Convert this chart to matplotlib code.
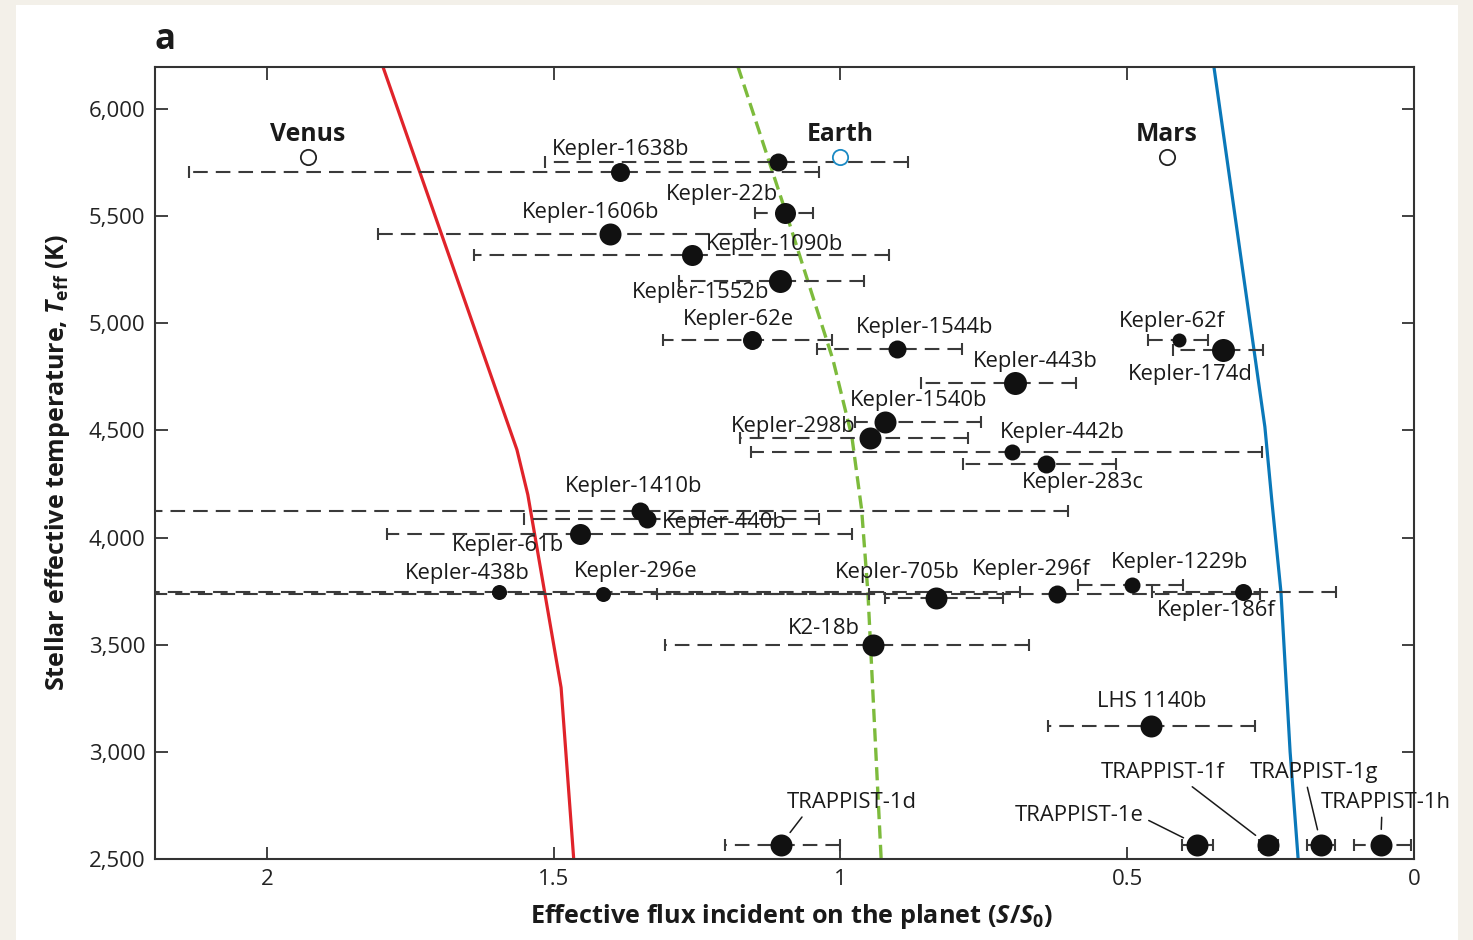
import matplotlib
matplotlib.use('Agg')
import matplotlib.pyplot as plt
from matplotlib.patches import Rectangle

plt.rcParams['font.family'] = ['Open Sans', 'DejaVu Sans']
plt.rcParams['lines.scale_dashes'] = False
plt.rcParams['mathtext.fontset'] = 'custom'
plt.rcParams['mathtext.it'] = 'Open Sans:italic:bold'
plt.rcParams['mathtext.rm'] = 'Open Sans:bold'
plt.rcParams['mathtext.bf'] = 'Open Sans:bold'

# ---------------- data ----------------
planet_names = ['Kepler-1638b', 'Kepler-452b', 'Kepler-22b', 'Kepler-1606b', 'Kepler-1090b',
                'Kepler-1552b', 'Kepler-62e', 'Kepler-1544b', 'Kepler-443b', 'Kepler-62f',
                'Kepler-174d', 'Kepler-1540b', 'Kepler-298b', 'Kepler-442b', 'Kepler-283c',
                'Kepler-1410b', 'Kepler-440b', 'Kepler-61b', 'Kepler-438b', 'Kepler-296e',
                'Kepler-705b', 'Kepler-296f', 'Kepler-1229b', 'Kepler-186f', 'K2-18b',
                'LHS 1140b', 'TRAPPIST-1d', 'TRAPPIST-1e', 'TRAPPIST-1f', 'TRAPPIST-1g',
                'TRAPPIST-1h']
planet_flux = [1.384, 1.109, 1.097, 1.402, 1.259,
               1.105, 1.154, 0.901, 0.696, 0.410,
               0.333, 0.922, 0.949, 0.701, 0.642,
               1.350, 1.337, 1.454, 1.595, 1.414,
               0.833, 0.622, 0.492, 0.298, 0.943,
               0.459, 1.104, 0.378, 0.255, 0.162,
               0.058]
planet_teff = [5706, 5753, 5515, 5417, 5319,
               5198, 4923, 4881, 4722, 4923,
               4876, 4540, 4466, 4400, 4344,
               4125, 4088, 4018, 3748, 3738,
               3719, 3738, 3780, 3747, 3500,
               3122, 2567, 2567, 2567, 2567,
               2567]
flux_upper = [2.136, 1.515, 1.149, 1.806, 1.639,
              1.282, 1.310, 1.041, 0.860, 0.464,
              0.420, 0.975, 1.175, 1.156, 0.786,
              2.400, 1.552, 1.791, 2.400, 2.400,
              0.922, 1.320, 0.586, 0.457, 1.305,
              0.638, 1.201, 0.405, 0.270, 0.186,
              0.105]
flux_lower = [1.037, 0.882, 1.048, 1.149, 0.915,
              0.959, 1.015, 0.788, 0.589, 0.359,
              0.263, 0.755, 0.778, 0.265, 0.520,
              0.603, 1.037, 0.980, 0.687, 0.950,
              0.717, 0.268, 0.403, 0.136, 0.671,
              0.277, 1.001, 0.350, 0.237, 0.138,
              0.005]
show_label = [True, False] + [True] * 29

solar_names = ['Venus', 'Earth', 'Mars']
solar_flux = [1.928, 1.0, 0.431]
solar_teff = [5778, 5778, 5778]

# habitable-zone limits
inner_teff = [6200, 4410, 4200, 3300, 2500]
inner_flux = [1.798, 1.564, 1.545, 1.487, 1.465]
earth_teff = [6200, 5500, 4830, 4470, 4130, 3740, 2500]
earth_flux = [1.179, 1.093, 1.013, 0.980, 0.963, 0.952, 0.929]
outer_teff = [6200, 4517, 4176, 3747, 3000, 2500]
outer_flux = [0.349, 0.260, 0.248, 0.232, 0.216, 0.202]

x_ticks = [2, 1.5, 1, 0.5, 0]
x_ticklabels = ['2', '1.5', '1', '0.5', '0']
y_ticks = [2500, 3000, 3500, 4000, 4500, 5000, 5500, 6000]

# ---------------- styling / layout ----------------
marker_px = {'Kepler-1638b': 19, 'Kepler-452b': 18, 'Kepler-22b': 21, 'Kepler-1606b': 22,
             'Kepler-1090b': 21, 'Kepler-1552b': 23, 'Kepler-62e': 19, 'Kepler-1544b': 18,
             'Kepler-443b': 23, 'Kepler-62f': 14, 'Kepler-174d': 23, 'Kepler-1540b': 22,
             'Kepler-298b': 22, 'Kepler-442b': 16, 'Kepler-283c': 18, 'Kepler-1410b': 18,
             'Kepler-440b': 18, 'Kepler-61b': 21, 'Kepler-438b': 15, 'Kepler-296e': 15,
             'Kepler-705b': 22, 'Kepler-296f': 18, 'Kepler-1229b': 16, 'Kepler-186f': 17}
# label offsets from the point, in pixels (dx right, dy up)
label_off = {'Kepler-1638b': (0, 23), 'Kepler-22b': (-63, 18), 'Kepler-1606b': (-19, 21),
             'Kepler-1090b': (83, 10), 'Kepler-1552b': (-80, -12), 'Kepler-62e': (-14, 20),
             'Kepler-1544b': (27, 21), 'Kepler-443b': (21, 21), 'Kepler-62f': (-7, 18),
             'Kepler-174d': (-33, -25), 'Kepler-1540b': (33, 21), 'Kepler-298b': (-76, 11),
             'Kepler-442b': (50, 19), 'Kepler-283c': (37, -19), 'Kepler-1410b': (-6, 24),
             'Kepler-440b': (77, -4), 'Kepler-61b': (-72, -12), 'Kepler-438b': (-32, 18),
             'Kepler-296e': (33, 22), 'Kepler-705b': (-39, 25), 'Kepler-296f': (-26, 24),
             'Kepler-1229b': (48, 22), 'Kepler-186f': (-27, -19), 'K2-18b': (-49, 16),
             'LHS 1140b': (1, 24), 'TRAPPIST-1d': (71, 42), 'TRAPPIST-1e': (-118, 29),
             'TRAPPIST-1f': (-105, 72), 'TRAPPIST-1g': (-7, 72), 'TRAPPIST-1h': (5, 42)}
leader_relpos = {'TRAPPIST-1d': (0.14, 0.0), 'TRAPPIST-1e': (1.03, 0.3),
                 'TRAPPIST-1f': (0.7, 0.0), 'TRAPPIST-1g': (0.44, 0.0),
                 'TRAPPIST-1h': (0.47, 0.0)}

PX = 0.72  # points per pixel at dpi 100
LABEL_FS = 15.8
W, H = 1473, 940
fig = plt.figure(figsize=(W / 100, H / 100), dpi=100, facecolor='#f3f0e9')
fig.patches.append(Rectangle((16 / W, 0), (1458 - 16) / W, (940 - 5) / H,
                             transform=fig.transFigure, facecolor='white',
                             edgecolor='none', zorder=-10))
ax = fig.add_axes([155 / W, 1 - 859 / H, (1414 - 155) / W, (859 - 67) / H])
ax.set_facecolor('white')

# HZ lines
ax.plot(inner_flux, inner_teff, color='#e0232a', lw=2.3, zorder=2, solid_capstyle='butt')
ax.plot(earth_flux, earth_teff, color='#7dbb3c', lw=2.4, zorder=2,
        linestyle=(0, (9.5, 4.5)))
ax.plot(outer_flux, outer_teff, color='#0a78b9', lw=2.3, zorder=2)

err_color = '#3a3a3a'
for i, name in enumerate(planet_names):
    s = planet_flux[i]
    t = planet_teff[i]
    lo = s - flux_lower[i]
    hi = flux_upper[i] - s
    ms = marker_px.get(name, 22) * PX
    eb = ax.errorbar([s], [t], xerr=[[lo], [hi]], fmt='none', ecolor=err_color,
                     elinewidth=1.5, capsize=4.5, capthick=1.5, zorder=3)
    for lc in eb[2]:
        lc.set_linestyle((0, (10.5, 5.8)))
    ax.plot([s], [t], 'o', color='#111111', ms=ms, mec='none', zorder=5)

    if show_label[i]:
        dx, dy = label_off[name]
        if name in leader_relpos:
            ax.annotate(name, xy=(s, t), xytext=(dx * PX, dy * PX),
                        textcoords='offset points', ha='center', va='center',
                        fontsize=LABEL_FS, color='#1a1a1a', zorder=6,
                        arrowprops=dict(arrowstyle='-', lw=1.1, color='#1a1a1a',
                                        relpos=leader_relpos[name],
                                        shrinkA=1, shrinkB=11))
        else:
            ax.annotate(name, xy=(s, t), xytext=(dx * PX, dy * PX),
                        textcoords='offset points', ha='center', va='center',
                        fontsize=LABEL_FS, color='#1a1a1a', zorder=6)

solar_edge = ['#222222', '#1b8ac4', '#222222']
for i, name in enumerate(solar_names):
    ax.plot([solar_flux[i]], [solar_teff[i]], 'o', mfc='white', mec=solar_edge[i],
            mew=1.3, ms=11, zorder=6)
    ax.annotate(name, xy=(solar_flux[i], solar_teff[i]), xytext=(0, 22 * PX),
                textcoords='offset points', ha='center', va='center',
                fontsize=17.8, fontweight='bold', color='#1a1a1a', zorder=6)

ax.set_xlim(2.195, 0)
ax.set_ylim(2500, 6196)
ax.set_xticks(x_ticks)
ax.set_xticklabels(x_ticklabels)
ax.set_yticks(y_ticks)
ax.set_yticklabels([f'{v:,}' for v in y_ticks])
ax.tick_params(direction='in', length=9, width=1.3, color='#333333',
               top=True, right=True, labelsize=16, labelcolor='#222222', pad=7)
for sp in ax.spines.values():
    sp.set_color('#333333')
    sp.set_linewidth(1.5)

ax.set_xlabel(r'Effective flux incident on the planet ($S$/$S_0$)', fontsize=18.2,
              fontweight='bold', color='#1a1a1a', labelpad=8)
ax.xaxis.set_label_coords(0.506, -0.054)
ax.set_ylabel(r'Stellar effective temperature, $T_{\rm eff}$ (K)', fontsize=18,
              fontweight='bold', color='#1a1a1a', labelpad=12)

fig.text(155 / W, 1 - 40 / H, 'a', fontsize=25, fontweight='bold', color='#1a1a1a',
         ha='left', va='center')

fig.savefig('out.png', dpi=100, facecolor=fig.get_facecolor())
